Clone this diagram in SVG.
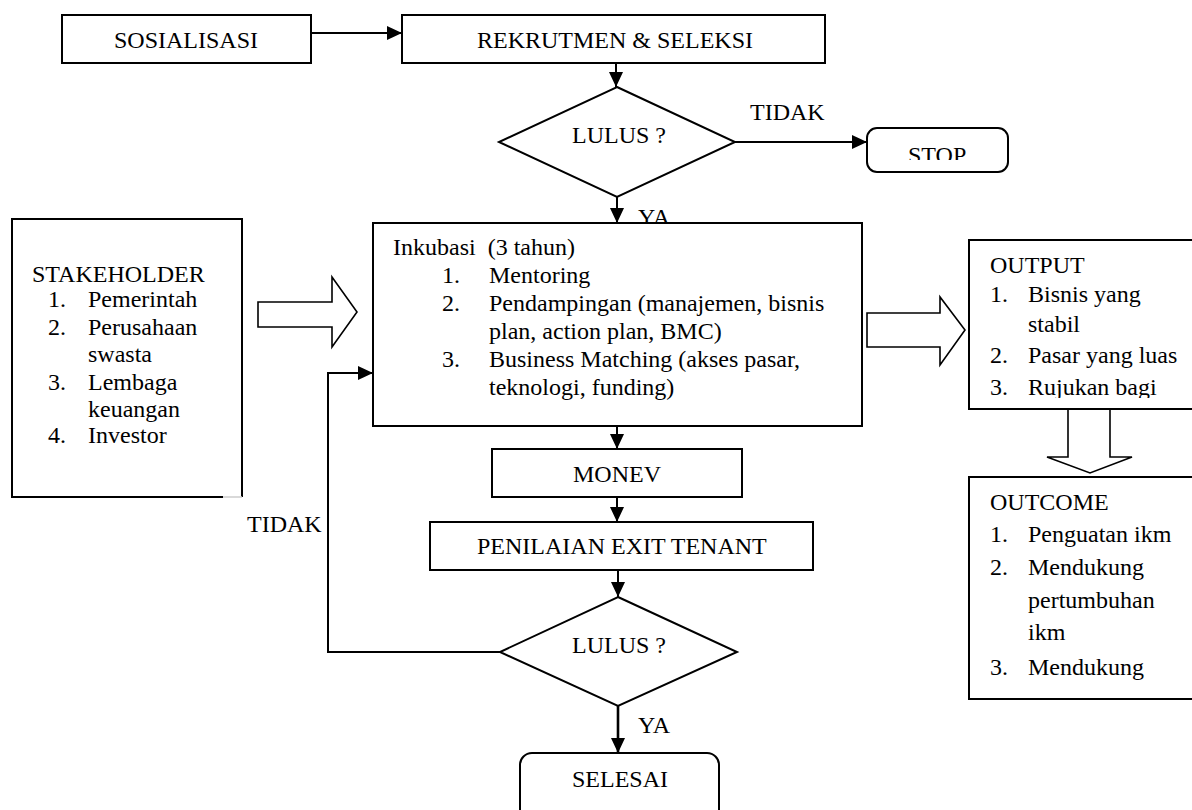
<svg xmlns="http://www.w3.org/2000/svg" width="1192" height="810" viewBox="0 0 1192 810">
<style>
text{font-family:"Liberation Serif","Times New Roman",serif;font-size:24px;fill:#000}
.box{fill:#fff;stroke:#000;stroke-width:2}
.ln{fill:none;stroke:#000;stroke-width:2}
.blk{fill:#fff;stroke:#000;stroke-width:1.6;stroke-linejoin:miter}
</style>
<defs>
<marker id="ah" markerUnits="userSpaceOnUse" markerWidth="15" markerHeight="14" refX="15" refY="7" orient="auto">
<path d="M0,0 L15,7 L0,14 z" fill="#000"/>
</marker>
<clipPath id="cStop"><rect x="860" y="120" width="160" height="40"/></clipPath>
<clipPath id="cOut"><rect x="969" y="240" width="230" height="158"/></clipPath>
</defs>
<rect width="1192" height="810" fill="#fff"/>

<g id="yaTop"><text x="638" y="225">YA</text></g>

<g id="connectors">
<line class="ln" x1="311" y1="33" x2="402" y2="33" marker-end="url(#ah)"/>
<line class="ln" x1="616" y1="63" x2="616" y2="87" marker-end="url(#ah)"/>
<line class="ln" x1="735" y1="142" x2="867" y2="142" marker-end="url(#ah)"/>
<line class="ln" x1="617" y1="197" x2="617" y2="223" marker-end="url(#ah)"/>
<line class="ln" x1="617" y1="426" x2="617" y2="449" marker-end="url(#ah)"/>
<line class="ln" x1="617" y1="497" x2="617" y2="522" marker-end="url(#ah)"/>
<line class="ln" x1="618" y1="570" x2="618" y2="597" marker-end="url(#ah)"/>
<polyline class="ln" points="500,652 328,652 328,373 373,373" marker-end="url(#ah)"/>
<line x1="618" y1="706" x2="618" y2="753" stroke="#000" stroke-width="2.6" marker-end="url(#ah)"/>
<polygon class="blk" points="258,302 332,302 332,277 357,312 332,347 332,327 258,327"/>
<polygon class="blk" points="867,313 940,313 940,297 965,330 940,365 940,347 867,347"/>
<polygon class="blk" points="1068,409 1068,457 1047,457 1090,473 1132,457 1110,457 1110,409"/>
<text x="750" y="120">TIDAK</text>
<text x="247" y="532">TIDAK</text>
<text x="638" y="733">YA</text>
</g>

<g id="sosialisasi">
<rect class="box" x="62" y="15" width="249" height="48"/>
<text x="186" y="48" text-anchor="middle">SOSIALISASI</text>
</g>

<g id="rekrutmen">
<rect class="box" x="402" y="15" width="423" height="48"/>
<text x="477" y="48">REKRUTMEN &amp; SELEKSI</text>
</g>

<g id="lulus1">
<polygon class="box" points="617,87 735,142 617,197 499,142"/>
<text x="572" y="143">LULUS ?</text>
</g>

<g id="stop">
<rect class="box" x="867" y="128" width="141" height="44" rx="10"/>
<text x="908" y="163" clip-path="url(#cStop)">STOP</text>
</g>

<g id="stakeholder">
<rect x="12" y="219" width="230" height="278" fill="#fff"/>
<path class="ln" d="M12,497 L12,219 L242,219 L242,497"/>
<line x1="11" y1="497" x2="223" y2="497" stroke="#000" stroke-width="2"/>
<line x1="223" y1="497" x2="242" y2="497" stroke="#ccc" stroke-width="1.5"/>
<text x="32" y="282">STAKEHOLDER</text>
<text x="48" y="307">1.</text><text x="88" y="307">Pemerintah</text>
<text x="48" y="335">2.</text><text x="88" y="335">Perusahaan</text>
<text x="88" y="362">swasta</text>
<text x="48" y="390">3.</text><text x="88" y="390">Lembaga</text>
<text x="88" y="417">keuangan</text>
<text x="48" y="443">4.</text><text x="88" y="443">Investor</text>
</g>

<g id="inkubasi">
<rect class="box" x="373" y="223" width="489" height="203"/>
<text x="393" y="255" xml:space="preserve">Inkubasi  (3 tahun)</text>
<text x="442" y="283">1.</text><text x="489" y="283">Mentoring</text>
<text x="442" y="311">2.</text><text x="489" y="311">Pendampingan (manajemen, bisnis</text>
<text x="489" y="339">plan, action plan, BMC)</text>
<text x="442" y="367">3.</text><text x="489" y="367">Business Matching (akses pasar,</text>
<text x="489" y="395">teknologi, funding)</text>
</g>

<g id="monev">
<rect class="box" x="492" y="449" width="250" height="48"/>
<text x="617" y="482" text-anchor="middle">MONEV</text>
</g>

<g id="penilaian">
<rect class="box" x="430" y="522" width="383" height="48"/>
<text x="477" y="554">PENILAIAN EXIT TENANT</text>
</g>

<g id="lulus2">
<polygon class="box" points="618,597 737,652 618,706 500,652"/>
<text x="572" y="653">LULUS ?</text>
</g>

<g id="selesai">
<rect class="box" x="520" y="753" width="199" height="80" rx="12"/>
<text x="572" y="787">SELESAI</text>
</g>

<g id="output">
<rect class="box" x="969" y="240" width="240" height="169"/>
<g clip-path="url(#cOut)">
<text x="990" y="273">OUTPUT</text>
<text x="990" y="302">1.</text><text x="1028" y="302">Bisnis yang</text>
<text x="1028" y="332">stabil</text>
<text x="990" y="363">2.</text><text x="1028" y="363">Pasar yang luas</text>
<text x="990" y="395">3.</text><text x="1028" y="395">Rujukan bagi</text>
</g>
</g>

<g id="outcome">
<rect class="box" x="969" y="477" width="240" height="222"/>
<text x="990" y="510">OUTCOME</text>
<text x="990" y="542">1.</text><text x="1028" y="542">Penguatan ikm</text>
<text x="990" y="575">2.</text><text x="1028" y="575">Mendukung</text>
<text x="1028" y="608">pertumbuhan</text>
<text x="1028" y="640">ikm</text>
<text x="990" y="675">3.</text><text x="1028" y="675">Mendukung</text>
</g>
</svg>
